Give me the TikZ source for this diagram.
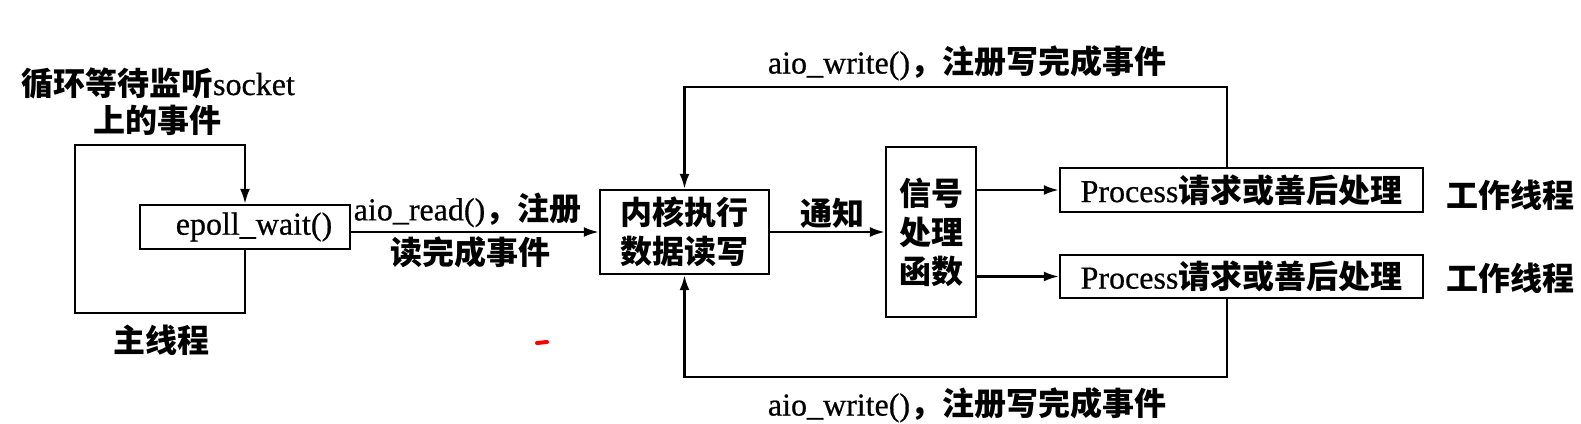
\documentclass[tikz,border=0pt]{standalone}
\usepackage{fontspec}
\setmainfont{Liberation Serif}[FakeBold=0.6]
\newfontfamily\cjkf{Noto Sans CJK SC}
\newcommand\zh[1]{{\cjkf\bfseries #1}}
\usetikzlibrary{arrows.meta,calc}
\begin{document}
\begin{tikzpicture}[x=1pt,y=-1pt,
  every node/.style={font=\fontsize{32}{39}\selectfont},
  box/.style={draw, line width=2.4pt, inner sep=0pt, align=center},
  lbl/.style={inner sep=0pt, align=center},
  arr/.style={line width=2.4pt, -{Latex[length=15pt,width=10pt]}}]
\useasboundingbox[fill=white] (0,0) rectangle (1581,423);

% nodes
\node[box, minimum width=210pt, minimum height=44pt] (ep) at (245,227) {\hspace*{18pt}epoll\_wait()};
\node[box, minimum width=169pt, minimum height=84pt] (k) at (684.5,232) {\zh{内核执行}\\\zh{数据读写}};
\node[box, minimum width=90pt, minimum height=170pt] (sig) at (931,232) {\zh{信号}\\\zh{处理}\\\zh{函数}};
\node[box, minimum width=363pt, minimum height=44pt] (p1) at (1241.5,190) {Process\zh{请求或善后处理}};
\node[box, minimum width=363pt, minimum height=43pt] (p2) at (1241.5,276.5) {Process\zh{请求或善后处理}};

% labels
\node[lbl] (t1) at (158,83) {\zh{循环等待监听}socket};
\node[lbl] (t2) at (157,120) {\zh{上的事件}};
\node[lbl] (t3) at (161,340) {\zh{主线程}};
\node[lbl] (r1) at (467.5,210) {aio\_read()\zh{，注册}};
\node[lbl] (r2) at (470,252) {\zh{读完成事件}};
\node[lbl] (n1) at (832,213) {\zh{通知}};
\node[lbl] (w1) at (967,63) {aio\_write()\zh{，注册写完成事件}};
\node[lbl] (w2) at (967,405) {aio\_write()\zh{，注册写完成事件}};
\node[lbl] (g1) at (1510,195) {\zh{工作线程}};
\node[lbl] (g2) at (1510,278) {\zh{工作线程}};

% loop of main thread
\coordinate (lb) at (75,313);
\coordinate (lt) at (75,145);
\draw[arr] (ep.south) |- (lb) -- (lt) -| (ep.north);

% main arrows
\draw[arr] (ep.east |- k.west) -- (k.west);
\draw[arr] (k.east) -- (k.east -| sig.west);
\draw[arr] (sig.east |- p1.west) -- (p1.west);
\draw[arr] (sig.east |- p2.west) -- (p2.west);

% feedback
\coordinate (tr) at (1227,87);
\coordinate (br) at (1227,377);
\draw[arr] (p1.north -| tr) -- (tr) -| (k.north);
\draw[arr] (p2.south -| br) -- (br) -| (k.south);

% stray red mark
\draw[red, line width=4pt, line cap=round] (537,343) -- (547,342);
\end{tikzpicture}
\end{document}
